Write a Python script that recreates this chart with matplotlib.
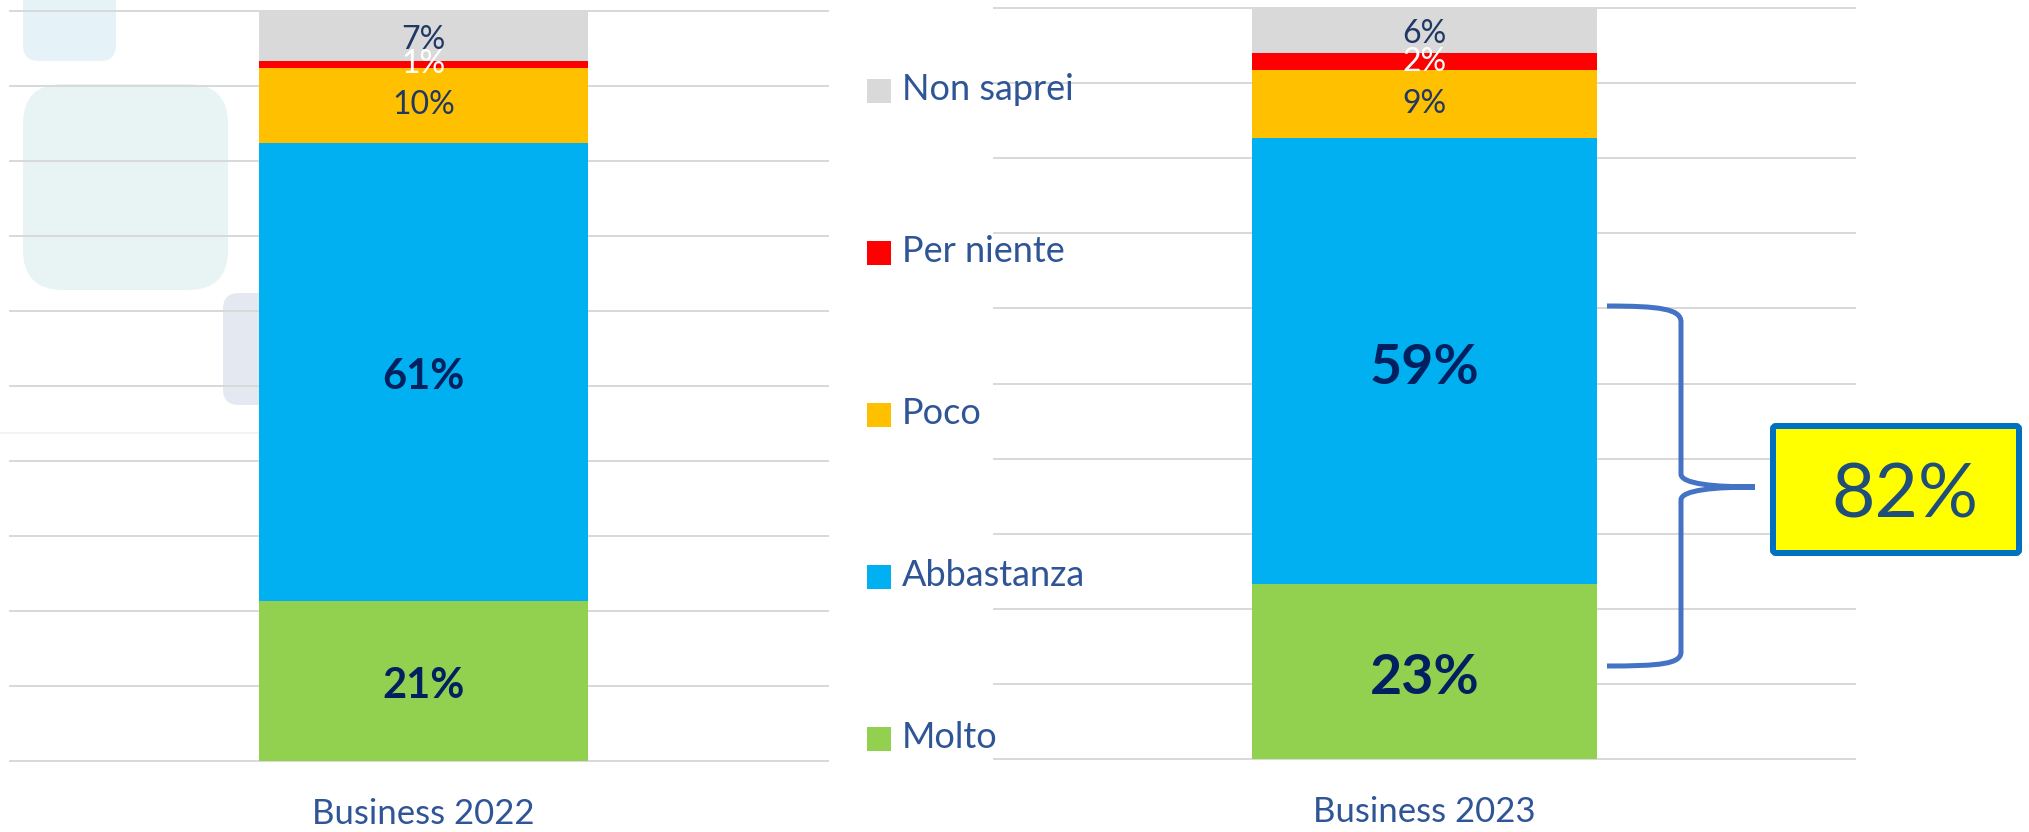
import matplotlib
matplotlib.use("Agg")
import matplotlib.pyplot as plt
from matplotlib.patches import Rectangle, FancyBboxPatch, PathPatch
from matplotlib.path import Path
from matplotlib.transforms import Affine2D

# ---------------- data ----------------
categories = ["Business 2022", "Business 2023"]
series_names = ["Molto", "Abbastanza", "Poco", "Per niente", "Non saprei"]
molto = [21.3, 23.3]
abbastanza = [61.1, 59.4]
poco = [10.0, 9.0]
per_niente = [1.0, 2.3]
non_saprei = [6.6, 6.0]
highlight_label = "82%"

series_values = [molto, abbastanza, poco, per_niente, non_saprei]
series_colors = ["#92D050", "#00B0F0", "#FFC000", "#FF0000", "#D9D9D9"]

# ---------------- layout ----------------
W, H = 2029, 832
DPI = 100
fig = plt.figure(figsize=(W / DPI, H / DPI), dpi=DPI)
fig.patch.set_facecolor("white")
px = Affine2D().scale(1 / W, -1 / H).translate(0, 1) + fig.transFigure


def pt(p):
    return p * 72 / DPI


FONT = "Lato"
NAVY = "#002060"
DARK = "#1F3864"
TXT = "#2F5597"

# faint background decorations (slide background)
for (x, y, w, h, r, c) in [
    (23, -30, 93, 91, 16, "#E5F3F9"),
    (23, 84, 205, 206, 40, "#E8F4F4"),
    (223, 293, 60, 112, 16, "#E4E8F0"),
]:
    p = FancyBboxPatch((x, y), w, h, boxstyle=f"round,pad=0,rounding_size={r}",
                       transform=px, facecolor=c, edgecolor="none", zorder=-2)
    fig.patches.append(p)
fig.lines.append(plt.Line2D([0, 259], [433, 433], transform=px, color="#F3F3F3",
                            lw=pt(2), zorder=-2))

axes_specs = [
    # (left px, bottom px, right px, top px, xlim, bold size, small size)
    (10, 761, 828, 11, (-1.257, 1.2295), 30, 23),
    (994, 759, 1855, 8, (-1.248, 1.248), 40, 23),
]

for i, (l, b, r, t, xl, bold_sz, small_sz) in enumerate(axes_specs):
    ax = fig.add_axes([l / W, (H - b) / H, (r - l) / W, (b - t) / H])
    ax.set_facecolor("none")
    ax.set_xlim(*xl)
    ax.set_ylim(0, 100)
    for s in ax.spines.values():
        s.set_visible(False)
    for g in range(0, 101, 10):
        ax.axhline(g, color="#D9D9D9", lw=pt(2), zorder=0.5, clip_on=False)
    ax.set_yticks([])
    ax.set_xticks([0])
    ax.set_xticklabels([categories[i]], fontsize=25, color=TXT, family=FONT,
                       fontweight="normal")
    ax.tick_params(axis="x", length=0, pad=27)

    bottom = 0.0
    for k, (vals, col) in enumerate(zip(series_values, series_colors)):
        cont = ax.bar(0, vals[i], width=1.0, bottom=bottom, color=col,
                      edgecolor="none", zorder=2)
        bold = k < 2
        tcol = "white" if k == 3 else (NAVY if bold else DARK)
        fs = bold_sz if bold else small_sz
        anns = ax.bar_label(cont, labels=[f"{vals[i]:.0f}%"], label_type="center",
                            fontsize=fs,
                            fontweight="bold" if bold else "normal",
                            color=tcol, family=FONT, zorder=3)
        if bold or k == 4:
            for a in anns:
                a.xyann = (0, -0.12 * fs)
        bottom += vals[i]

# ---------------- legend (middle) ----------------
for j, k in enumerate(reversed(range(len(series_names)))):
    yc = 91 + 162 * j
    fig.patches.append(Rectangle((867, yc - 12), 24, 24, transform=px,
                                 facecolor=series_colors[k], edgecolor="none"))
    fig.text(902, yc + 9, series_names[k], transform=px, fontsize=26,
             color=TXT, family=FONT, fontweight="normal", va="baseline", ha="left")

# ---------------- brace ----------------
verts = [
    (1607, 306), (1660, 306), (1681, 309), (1681, 322),
    (1681, 474),
    (1681, 484), (1715, 487), (1755, 487),
    (1715, 487), (1681, 490), (1681, 500),
    (1681, 652),
    (1681, 664), (1660, 666), (1607, 666),
]
codes = [Path.MOVETO, Path.CURVE4, Path.CURVE4, Path.CURVE4,
         Path.LINETO,
         Path.CURVE4, Path.CURVE4, Path.CURVE4,
         Path.CURVE4, Path.CURVE4, Path.CURVE4,
         Path.LINETO,
         Path.CURVE4, Path.CURVE4, Path.CURVE4]
fig.patches.append(PathPatch(Path(verts, codes), transform=px, facecolor="none",
                             edgecolor="#4472C4", lw=pt(5), zorder=5))

# ---------------- highlight box ----------------
fig.patches.append(FancyBboxPatch((1773, 426), 246, 127,
                                  boxstyle="round,pad=0,rounding_size=3",
                                  transform=px, facecolor="#FFFF00",
                                  edgecolor="#0070C0", lw=pt(6), zorder=5))
fig.text(1905, 517, highlight_label, transform=px, fontsize=54, color="#1F4E79",
         family=FONT, ha="center", va="baseline", zorder=6)

fig.savefig("out.png", dpi=DPI, facecolor="white")
